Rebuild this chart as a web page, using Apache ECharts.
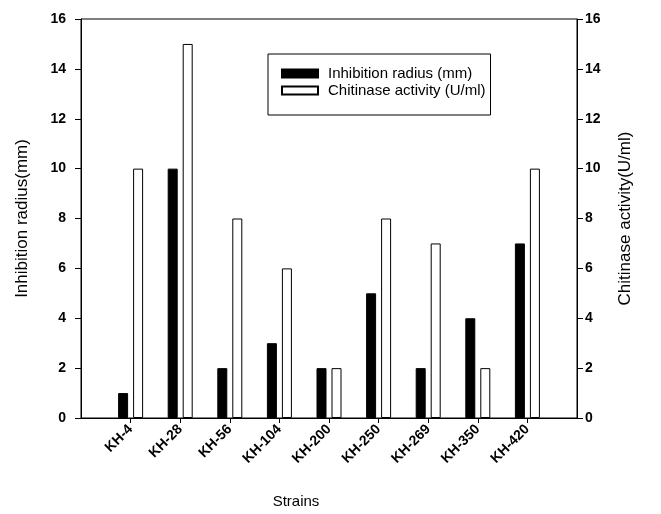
<!DOCTYPE html>
<html>
<head>
<meta charset="utf-8">
<script src="https://cdn.jsdelivr.net/npm/echarts@6/dist/echarts.min.js"></script>
<style>
html,body{margin:0;padding:0;background:#fff;}
#chart{width:661px;height:514px;}
</style>
</head>
<body>
<div id="chart"></div>
<script>
const categories = ['KH-4','KH-28','KH-56','KH-104','KH-200','KH-250','KH-269','KH-350','KH-420'];
const inhibitionRadius = [1, 10, 2, 3, 2, 5, 2, 4, 7];
const chitinaseActivity = [10, 15, 8, 6, 2, 8, 7, 2, 10];
const yTicks = [0, 2, 4, 6, 8, 10, 12, 14, 16];
const seriesNames = ['Inhibition radius (mm)', 'Chitinase activity (U/ml)'];

const n = categories.length;
const xData = [''].concat(categories, ['']);
const pad = arr => ['-'].concat(arr, ['-']);
const isCat = i => i > 0 && i <= n;

const font = '"Liberation Sans", Arial, sans-serif';
const tickLabel = { color: '#000', fontFamily: font, fontSize: 14, fontWeight: 'bold' };

const chart = echarts.init(document.getElementById('chart'), null, { renderer: 'canvas' });
chart.setOption({
  animation: false,
  backgroundColor: '#fff',
  textStyle: { fontFamily: font },
  grid: { left: 81, right: 84, top: 19, bottom: 92, show: true, borderColor: '#000', borderWidth: 1, backgroundColor: 'transparent' },
  legend: {
    orient: 'vertical',
    left: 268, top: 54,
    padding: [12, 5, 17, 13],
    itemGap: 2,
    itemWidth: 36, itemHeight: 8,
    icon: 'rect',
    borderColor: '#000', borderWidth: 1,
    textStyle: { color: '#000', fontFamily: font, fontSize: 15, padding: [0, 0, 0, 5] },
    data: seriesNames
  },
  xAxis: {
    type: 'category',
    data: xData,
    boundaryGap: false,
    name: 'Strains',
    nameLocation: 'middle',
    nameGap: 76,
    nameTextStyle: { color: '#000', fontFamily: font, fontSize: 15, padding: [0, 66, 0, 0] },
    axisLine: { lineStyle: { color: '#000', width: 1 } },
    axisTick: { show: true, length: 5, interval: (i) => isCat(i), lineStyle: { color: '#000' } },
    axisLabel: Object.assign({ interval: (i) => isCat(i), rotate: 45, margin: 9 }, tickLabel),
    splitLine: { show: false }
  },
  yAxis: [
    {
      type: 'value', position: 'left', min: yTicks[0], max: yTicks[yTicks.length - 1], interval: 2,
      name: 'Inhibition radius(mm)', nameLocation: 'middle', nameGap: 50, nameRotate: 90,
      nameTextStyle: { color: '#000', fontFamily: font, fontSize: 17 },
      axisLine: { show: true, lineStyle: { color: '#000', width: 1 } },
      axisTick: { show: true, length: 6, lineStyle: { color: '#000' } },
      axisLabel: Object.assign({ margin: 15 }, tickLabel),
      splitLine: { show: false }
    },
    {
      type: 'value', position: 'right', min: yTicks[0], max: yTicks[yTicks.length - 1], interval: 2,
      name: 'Chitinase activity(U/ml)', nameLocation: 'middle', nameGap: 40, nameRotate: 90,
      nameTextStyle: { color: '#000', fontFamily: font, fontSize: 17 },
      axisLine: { show: true, lineStyle: { color: '#000', width: 1 } },
      axisTick: { show: true, length: 6, lineStyle: { color: '#000' } },
      axisLabel: Object.assign({ margin: 8 }, tickLabel),
      splitLine: { show: false }
    }
  ],
  series: [
    {
      name: seriesNames[0], type: 'bar', yAxisIndex: 0,
      barWidth: 10, barGap: '50%',
      itemStyle: { color: '#000', borderColor: '#000', borderWidth: 1 },
      data: pad(inhibitionRadius)
    },
    {
      name: seriesNames[1], type: 'bar', yAxisIndex: 1,
      barWidth: 10,
      itemStyle: { color: '#fff', borderColor: '#000', borderWidth: 1 },
      data: pad(chitinaseActivity)
    }
  ]
});
</script>
</body>
</html>
